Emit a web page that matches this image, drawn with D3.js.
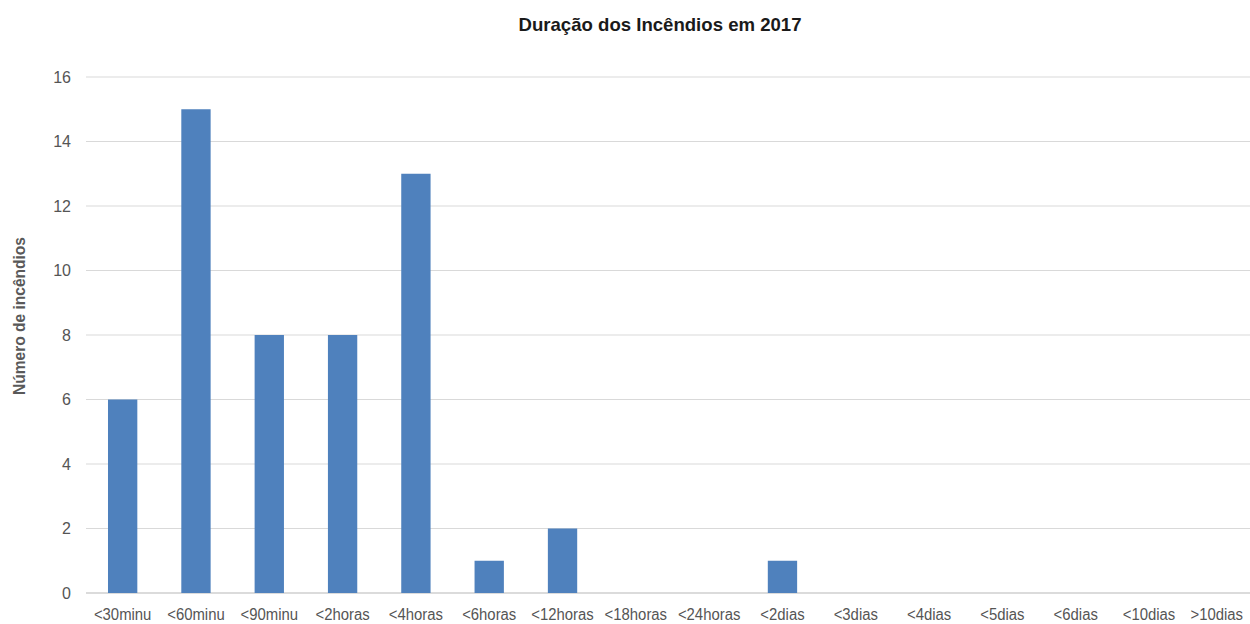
<!DOCTYPE html>
<html><head><meta charset="utf-8">
<script src="https://cdn.jsdelivr.net/npm/d3@7"></script>
<style>
body{margin:0;background:#fff;}
text{font-family:"Liberation Sans Narrow","Arial Narrow","Liberation Sans",Arial,sans-serif;}
</style></head><body>
<svg id="c" width="1250" height="624"></svg>
<script>
const categories = ["<30minu","<60minu","<90minu","<2horas","<4horas","<6horas","<12horas","<18horas","<24horas","<2dias","<3dias","<4dias","<5dias","<6dias","<10dias",">10dias"];
const values = [6,15,8,8,13,1,2,0,0,1,0,0,0,0,0,0];
const yTicks = [0,2,4,6,8,10,12,14,16];
const title = "Duração dos Incêndios em 2017";
const yTitle = "Número de incêndios";

const svg = d3.select("#c");
const x = d3.scaleBand().domain(categories).range([86,1259]).paddingInner(0.6).paddingOuter(0.3);
const y = d3.scaleLinear().domain([0,16]).range([593,77]);

svg.append("g").selectAll("line").data(yTicks).join("line")
  .attr("x1",86).attr("x2",1250)
  .attr("y1",d=>y(d)).attr("y2",d=>y(d))
  .attr("stroke",d=>d===0?"#cfcfcf":"#d9d9d9").attr("stroke-width",d=>d===0?1.5:1);

svg.append("g").selectAll("rect").data(values).join("rect")
  .attr("x",(d,i)=>x(categories[i]))
  .attr("width",x.bandwidth())
  .attr("y",d=>y(d))
  .attr("height",d=>y(0)-y(d))
  .attr("fill","#4f81bd");

svg.append("g").selectAll("text").data(yTicks).join("text")
  .attr("x",71).attr("y",d=>y(d)).attr("dy","0.35em")
  .attr("text-anchor","end").attr("font-size",16).attr("fill","#555")
  .text(d=>d);

svg.append("g").selectAll("text").data(categories).join("text")
  .attr("x",d=>x(d)+x.bandwidth()/2).attr("y",620)
  .attr("text-anchor","middle").attr("font-size",16).attr("fill","#555")
  .text(d=>d)
  .each(function(d,i){
    const l=this.getComputedTextLength();
    const t=d3.select(this);
    if(i===categories.length-1){ t.attr("text-anchor","end").attr("x",1243); }
    t.attr("textLength",l*0.93).attr("lengthAdjust","spacingAndGlyphs");
  });

svg.append("text").attr("x",660).attr("y",31).attr("text-anchor","middle")
  .attr("font-size",19).attr("font-weight","bold").attr("fill","#1a1a1a").text(title)
  .attr("textLength",283).attr("lengthAdjust","spacingAndGlyphs");

svg.append("text").attr("transform","translate(25,316) rotate(-90)")
  .attr("text-anchor","middle").attr("font-size",16).attr("font-weight","bold")
  .attr("fill","#595959").text(yTitle)
  .attr("textLength",158).attr("lengthAdjust","spacingAndGlyphs");
</script>
</body></html>
